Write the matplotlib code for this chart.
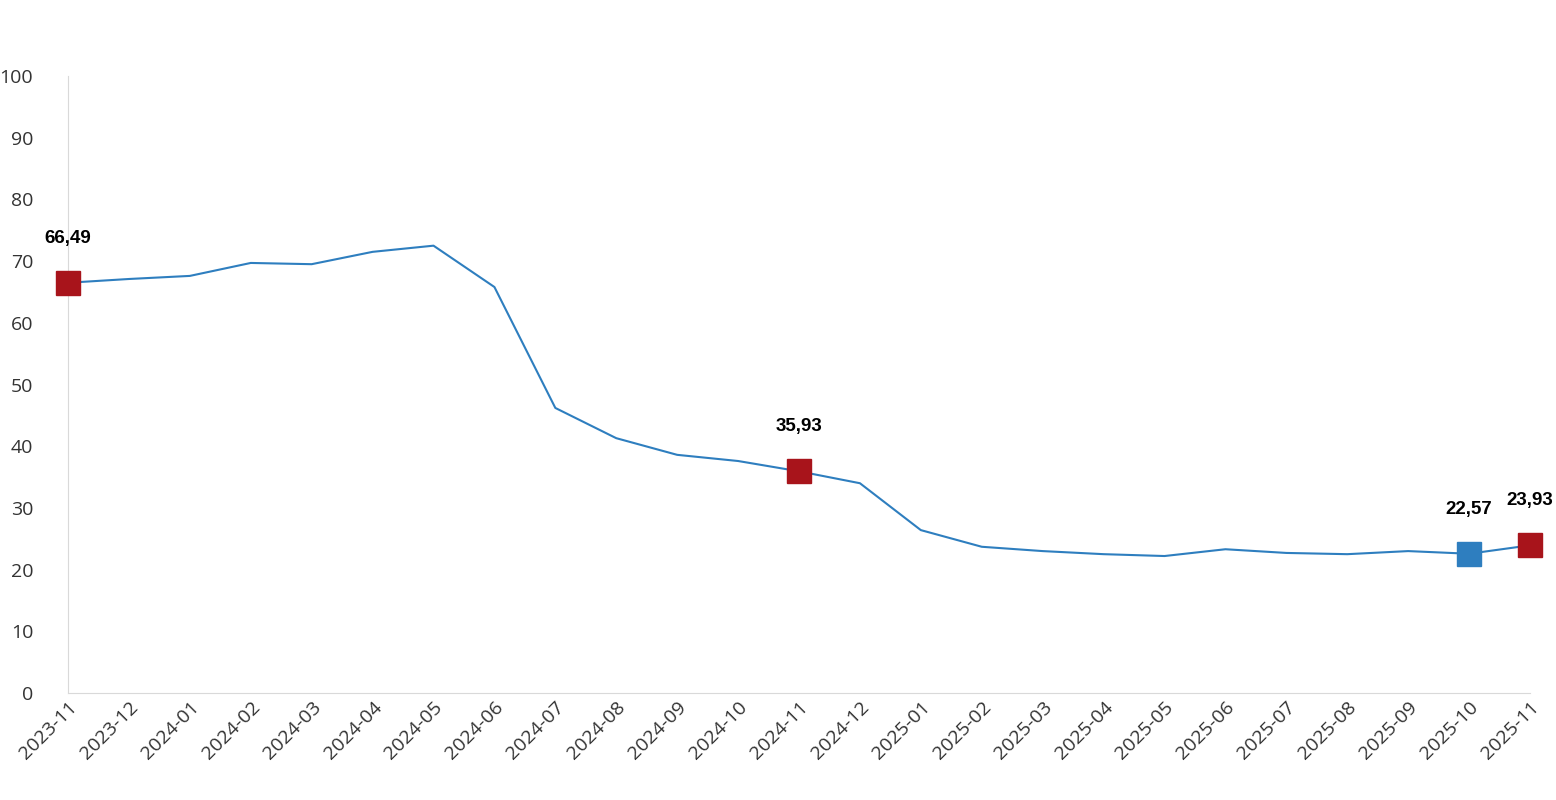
import matplotlib.pyplot as plt

months = ["2023-11", "2023-12", "2024-01", "2024-02", "2024-03", "2024-04", "2024-05",
          "2024-06", "2024-07", "2024-08", "2024-09", "2024-10", "2024-11", "2024-12",
          "2025-01", "2025-02", "2025-03", "2025-04", "2025-05", "2025-06", "2025-07",
          "2025-08", "2025-09", "2025-10", "2025-11"]
values = [66.49, 67.1, 67.6, 69.7, 69.5, 71.5, 72.5, 65.8, 46.2, 41.3, 38.6, 37.6,
          35.93, 34.0, 26.4, 23.7, 23.0, 22.5, 22.2, 23.3, 22.7, 22.5, 23.0, 22.57, 23.93]
red_idx = [0, 12, 24]
blue_idx = [23]

plt.rcParams["font.family"] = ["Open Sans", "DejaVu Sans"]
fig = plt.figure(figsize=(15.56, 8.0), dpi=100)
ax = fig.add_axes([68 / 1556, 1 - 693 / 800, (1530 - 68) / 1556, (693 - 76) / 800])

x = list(range(len(months)))
ax.plot(x, values, color="#2E7EBF", lw=1.5, zorder=2)
for i in red_idx:
    ax.plot(i, values[i], marker="s", ms=17, color="#A8141B", zorder=3, clip_on=False)
for i in blue_idx:
    ax.plot(i, values[i], marker="s", ms=17, color="#2E7EBF", zorder=3, clip_on=False)
for i in red_idx + blue_idx:
    ax.annotate(f"{values[i]:.2f}".replace(".", ","), (i, values[i]), xytext=(0, 26),
                textcoords="offset points", ha="center", va="bottom",
                fontsize=13.5, fontweight="bold", family="Liberation Sans")

ax.set_xlim(0, 24)
ax.set_ylim(0, 100)
ax.set_yticks(range(0, 101, 10))
ax.set_xticks(x)
ax.set_xticklabels(months, rotation=45, ha="right", rotation_mode="anchor")
ax.tick_params(axis="both", length=0, labelsize=14, colors="#333333")
ax.tick_params(axis="y", pad=25)
for s in ["top", "right"]:
    ax.spines[s].set_visible(False)
for s in ["left", "bottom"]:
    ax.spines[s].set_color("#D9D9D9")

fig.savefig("out.png")
